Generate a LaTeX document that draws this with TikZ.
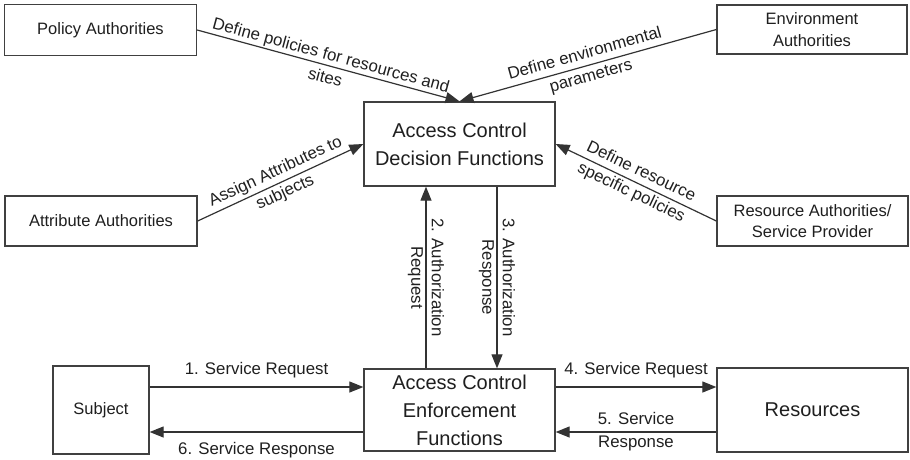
\documentclass[tikz,border=0pt]{standalone}
\usepackage{fontspec}
\setmainfont{Liberation Sans}
\usetikzlibrary{arrows.meta}
\begin{document}
\begin{tikzpicture}[x=1pt,y=-1pt,
  box/.style={draw=black!75, line width=1.3pt, fill=white, inner sep=2pt,
    align=center, text=black!88, font=\fontsize{16.5}{21.5}\selectfont},
  bigbox/.style={box, font=\fontsize{20}{28}\selectfont},
  flow/.style={draw=black!80, line width=1.2pt,
    -{Triangle[length=14pt,width=11pt]}},
  lbl/.style={font=\fontsize{16.8}{23}\selectfont, text=black!88,
    align=center, inner sep=0pt}
]
\useasboundingbox (0,0) rectangle (910,459);

% authorities
\node[box, minimum width=192, minimum height=51] (pol) at (100.5,30) {Policy Authorities};
\node[box, minimum width=190, minimum height=49] (env) at (812,29.5) {Environment\\Authorities};
\node[box, minimum width=192, minimum height=50] (att) at (101,221) {Attribute Authorities};
\node[box, minimum width=191, minimum height=50] (rau) at (812.5,221) {Resource Authorities/\\Service Provider};

% decision and enforcement functions
\node[bigbox, minimum width=191, minimum height=84] (dec) at (459.5,144) {Access Control\\Decision Functions};
\node[bigbox, minimum width=191, minimum height=82] (enf) at (459.5,410) {Access Control\\Enforcement\\Functions};

% subject and resources
\node[box, minimum width=96, minimum height=88] (sub) at (101,410) {Subject};
\node[bigbox, minimum width=191, minimum height=84] (rsc) at (812.5,410) {Resources};

% policy and attribute inputs
\draw[flow] (pol.east) -- node[lbl, midway, sloped] {Define policies for resources and\\sites} (dec.north);
\draw[flow] (env.west) -- node[lbl, midway, sloped] {Define environmental\\parameters} (dec.north);
\draw[flow] (att.east) -- node[lbl, midway, sloped] {Assign Attributes to\\subjects} (dec.west);
\draw[flow] (rau.west) -- node[lbl, midway, sloped] {Define resource\\specific policies} (dec.east);

% authorization exchange
\draw[flow] ([xshift=-33.5pt]enf.north) -- node[lbl, midway, rotate=-90, font=\fontsize{16.8}{20.5}\selectfont] {2. Authorization\\Request} ([xshift=-33.5pt]dec.south);
\draw[flow] ([xshift=37.5pt]dec.south) -- node[lbl, midway, rotate=-90, font=\fontsize{16.8}{20.5}\selectfont] {3. Authorization\\Response} ([xshift=37.5pt]enf.north);

% service exchange
\draw[flow] ([yshift=23pt]sub.east) -- node[lbl, midway, anchor=base, yshift=13pt] {1. Service Request} ([yshift=23pt]enf.west);
\draw[flow] ([yshift=-22pt]enf.west) -- node[lbl, midway, anchor=base, yshift=-22pt] {6. Service Response} ([yshift=-22pt]sub.east);
\draw[flow] ([yshift=23pt]enf.east) -- node[lbl, midway, anchor=base, yshift=13pt] {4. Service Request} ([yshift=23pt]rsc.west);
\draw[flow] ([yshift=-22pt]rsc.west) -- node[lbl, midway] {5. Service\\Response} ([yshift=-22pt]enf.east);
\end{tikzpicture}
\end{document}
